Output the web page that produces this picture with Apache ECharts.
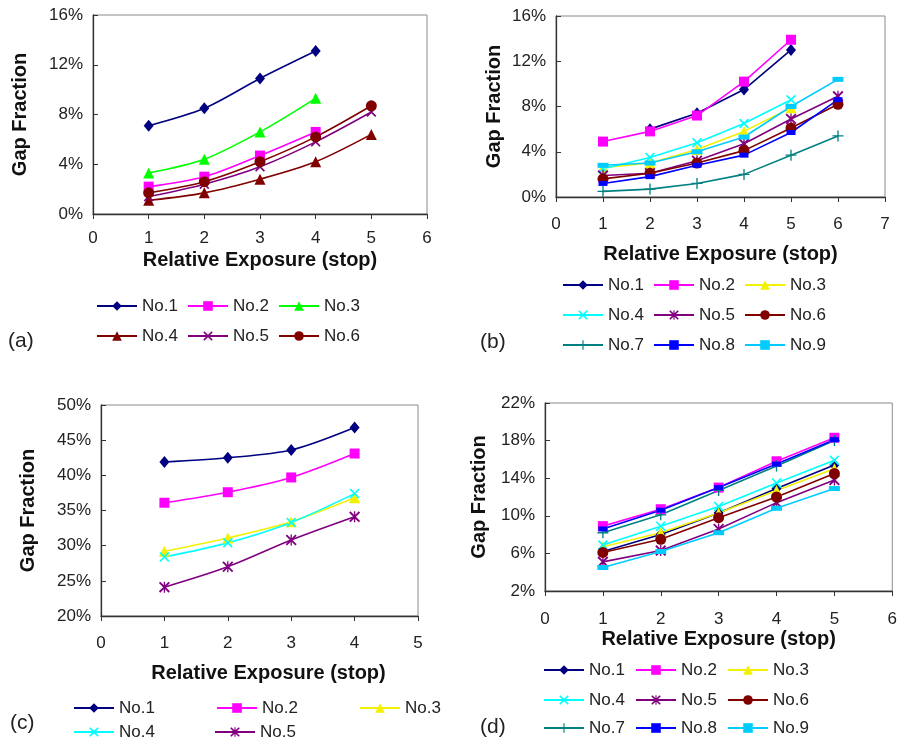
<!DOCTYPE html>
<html>
<head>
<meta charset="utf-8">
<script src="https://cdn.jsdelivr.net/npm/echarts@6/dist/echarts.min.js"></script>
<style>
html,body{margin:0;padding:0;background:#fff;}
#chart{width:900px;height:744px;}
</style>
</head>
<body>
<div id="chart"></div>
<script>
// ---------- DATA ----------
const seriesNames = ['No.1','No.2','No.3','No.4','No.5','No.6','No.7','No.8','No.9'];
const panelLabels = ['(a)','(b)','(c)','(d)'];
const xTitle = 'Relative Exposure (stop)';
const yTitle = 'Gap Fraction';

// Panel (a)
const a_x = [1,2,3,4,5];
const a_No1 = [7.1, 8.5, 10.9, 13.1];
const a_No2 = [2.2, 3.0, 4.7, 6.6];
const a_No3 = [3.3, 4.4, 6.6, 9.3];
const a_No4 = [1.1, 1.7, 2.8, 4.2, 6.4];
const a_No5 = [1.4, 2.4, 3.8, 5.8, 8.2];
const a_No6 = [1.7, 2.6, 4.2, 6.2, 8.7];

// Panel (b)
const b_x = [1,2,3,4,5,6];
const b_No1_x = [2,3,4,5];
const b_No1 = [6.0, 7.4, 9.5, 13.0];
const b_No2 = [4.9, 5.8, 7.2, 10.2, 13.9];
const b_No3 = [2.6, 3.0, 4.2, 5.8, 7.9];
const b_No4 = [2.5, 3.5, 4.8, 6.5, 8.6];
const b_No5 = [1.9, 2.1, 3.2, 4.7, 6.9, 8.9];
const b_No6 = [1.6, 2.1, 3.0, 4.1, 6.1, 8.2];
const b_No7 = [0.5, 0.7, 1.2, 2.0, 3.7, 5.4];
const b_No8 = [1.2, 1.8, 2.8, 3.7, 5.7, 8.6];
const b_No9 = [2.8, 3.0, 4.0, 5.3, 8.0, 10.4];

// Panel (c)
const c_x = [1,2,3,4];
const c_No1 = [41.9, 42.5, 43.6, 46.8];
const c_No2 = [36.1, 37.6, 39.7, 43.1];
const c_No3 = [29.2, 31.1, 33.4, 36.8];
const c_No4 = [28.4, 30.4, 33.3, 37.4];
const c_No5 = [24.1, 27.0, 30.8, 34.1];

// Panel (d)
const d_x = [1,2,3,4,5];
const d_No1 = [6.2, 8.0, 10.3, 12.9, 15.4];
const d_No2 = [8.9, 10.7, 13.0, 15.8, 18.3];
const d_No3 = [6.7, 8.2, 10.3, 12.7, 15.0];
const d_No4 = [6.9, 8.9, 11.0, 13.5, 15.9];
const d_No5 = [5.1, 6.3, 8.6, 11.4, 13.8];
const d_No6 = [6.1, 7.5, 9.8, 12.0, 14.5];
const d_No7 = [8.2, 10.1, 12.7, 15.3, 18.0];
const d_No8 = [8.6, 10.6, 13.0, 15.5, 18.1];
const d_No9 = [4.5, 6.2, 8.2, 10.8, 12.9];

// Axis ranges
const xMax = [6, 7, 5, 6];
const yMin = [0, 0, 20, 2];
const yMax = [16, 16, 50, 22];
const yStep = [4, 4, 5, 4];

// ---------- STYLE ----------
const FONT = 'Liberation Sans, Arial, Helvetica, sans-serif';
const COL = {navy:'#000080', mag:'#FF00FF', green:'#00FF00', yellow:'#F2F200', dred:'#800000',
  purple:'#800080', cyan:'#00FFFF', teal:'#008080', blue:'#0000FF', lblue:'#00CCFF'};
const SYM_X = 'path://M1.2,0 L5,3.8 L8.8,0 L10,1.2 L6.2,5 L10,8.8 L8.8,10 L5,6.2 L1.2,10 L0,8.8 L3.8,5 L0,1.2 Z';
const SYM_AST = 'path://M1.2,0 L5,3.8 L8.8,0 L10,1.2 L6.2,5 L10,8.8 L8.8,10 L5,6.2 L1.2,10 L0,8.8 L3.8,5 L0,1.2 Z M4.4,0 L5.6,0 L5.6,10 L4.4,10 Z';
const SYM_PLUS = 'path://M4.4,0 L5.6,0 L5.6,4.4 L10,4.4 L10,5.6 L5.6,5.6 L5.6,10 L4.4,10 L4.4,5.6 L0,5.6 L0,4.4 L4.4,4.4 Z';

const MK = {
  diamond: ['diamond', [10,12]],
  square: ['rect', 10],
  tri: ['triangle', 11],
  circle: ['circle', 11],
  x: [SYM_X, 10],
  ast: [SYM_AST, 11],
  plus: [SYM_PLUS, 11],
  dash8: ['rect', [9,5]],
  dash9: ['rect', [11,5]]
};

function pts(xs, vals){ return vals.map((v,i)=>[xs[i], v]); }

const series = [];
function add(panel, name, xs, vals, color, mk, smooth){
  series.push({
    type:'line',
    name: panelLabels[panel] + ':' + name,
    xAxisIndex: panel, yAxisIndex: panel,
    data: pts(xs, vals),
    smooth: smooth ? 0.3 : false,
    symbol: MK[mk][0], symbolSize: MK[mk][1],
    showAllSymbol: true,
    lineStyle:{color, width:1.6},
    itemStyle:{color},
    emphasis:{disabled:true},
    animation:false
  });
}

// (a)
add(0,'No.1',a_x,a_No1,COL.navy,'diamond',true);
add(0,'No.2',a_x,a_No2,COL.mag,'square',true);
add(0,'No.3',a_x,a_No3,COL.green,'tri',true);
add(0,'No.4',a_x,a_No4,COL.dred,'tri',true);
add(0,'No.5',a_x,a_No5,COL.purple,'x',true);
add(0,'No.6',a_x,a_No6,COL.dred,'circle',true);
// (b)
add(1,'No.1',b_No1_x,b_No1,COL.navy,'diamond',false);
add(1,'No.2',b_x,b_No2,COL.mag,'square',false);
add(1,'No.3',b_x,b_No3,COL.yellow,'tri',false);
add(1,'No.4',b_x,b_No4,COL.cyan,'x',false);
add(1,'No.5',b_x,b_No5,COL.purple,'ast',false);
add(1,'No.6',b_x,b_No6,COL.dred,'circle',false);
add(1,'No.7',b_x,b_No7,COL.teal,'plus',false);
add(1,'No.8',b_x,b_No8,COL.blue,'dash8',false);
add(1,'No.9',b_x,b_No9,COL.lblue,'dash9',false);
// (c)
add(2,'No.1',c_x,c_No1,COL.navy,'diamond',true);
add(2,'No.2',c_x,c_No2,COL.mag,'square',true);
add(2,'No.3',c_x,c_No3,COL.yellow,'tri',true);
add(2,'No.4',c_x,c_No4,COL.cyan,'x',true);
add(2,'No.5',c_x,c_No5,COL.purple,'ast',true);
// (d)
add(3,'No.1',d_x,d_No1,COL.navy,'diamond',false);
add(3,'No.2',d_x,d_No2,COL.mag,'square',false);
add(3,'No.3',d_x,d_No3,COL.yellow,'tri',false);
add(3,'No.4',d_x,d_No4,COL.cyan,'x',false);
add(3,'No.5',d_x,d_No5,COL.purple,'ast',false);
add(3,'No.6',d_x,d_No6,COL.dred,'circle',false);
add(3,'No.7',d_x,d_No7,COL.teal,'plus',false);
add(3,'No.8',d_x,d_No8,COL.blue,'dash8',false);
add(3,'No.9',d_x,d_No9,COL.lblue,'dash9',false);

// ---------- LAYOUT ----------
const grids = [
  {left:93, top:15, width:334, height:199},
  {left:556, top:16, width:329, height:181},
  {left:101, top:405, width:317, height:211},
  {left:545, top:403, width:348, height:188}
];
const xLabelMargin = [16, 19, 19, 20];
const xNameGap = [36, 47, 47, 38];
const yNameGap = [63, 52, 63, 56];

const xAxes = grids.map((g,i)=>({
  type:'value', gridIndex:i, min:0, max:xMax[i], interval:1,
  axisLine:{show:true, onZero:false, lineStyle:{color:'#333', width:1.3}},
  axisTick:{show:true, inside:false, length:5, lineStyle:{color:'#333'}},
  axisLabel:{fontSize:17, color:'#222', fontFamily:FONT, margin:xLabelMargin[i]},
  splitLine:{show:false},
  name:xTitle, nameLocation:'middle', nameGap:xNameGap[i],
  nameTextStyle:{fontSize:20, fontWeight:'bold', color:'#111', fontFamily:FONT,
    padding: i===2 ? [0,0,0,18] : 0}
}));
const yAxes = grids.map((g,i)=>({
  type:'value', gridIndex:i, min:yMin[i], max:yMax[i], interval:yStep[i],
  axisLine:{show:true, onZero:false, lineStyle:{color:'#333', width:1.3}},
  axisTick:{show:true, inside:true, length:5, lineStyle:{color:'#333'}},
  axisLabel:{fontSize:17, color:'#222', fontFamily:FONT, margin:10, formatter:'{value}%'},
  splitLine:{show:false},
  name:yTitle, nameLocation:'middle', nameGap:yNameGap[i],
  nameTextStyle:{fontSize:20, fontWeight:'bold', color:'#111', fontFamily:FONT}
}));

function leg(panel, items, left, centerY, gap){
  return {
    data: items.map(n => panelLabels[panel] + ':' + n),
    left, top: centerY - 9, orient:'horizontal', itemGap: gap,
    itemWidth: 40, itemHeight: 12, padding: 0, selectedMode:false,
    formatter: n => n.split(':')[1],
    textStyle:{fontSize:17, color:'#222', fontFamily:FONT, width:40, lineHeight:18}
  };
}
const legends = [
  leg(0, seriesNames.slice(0,3), 96, 306, 5),
  leg(0, seriesNames.slice(3,6), 96, 336, 5),
  leg(1, seriesNames.slice(0,3), 562, 285, 5),
  leg(1, seriesNames.slice(3,6), 562, 315, 5),
  leg(1, seriesNames.slice(6,9), 562, 345, 5),
  leg(2, seriesNames.slice(0,3), 73, 708, 57),
  leg(2, seriesNames.slice(3,5), 73, 732, 55),
  leg(3, seriesNames.slice(0,3), 543, 670, 6),
  leg(3, seriesNames.slice(3,6), 543, 700, 6),
  leg(3, seriesNames.slice(6,9), 543, 728, 6)
];

const titlePos = [[8,331],[480,332],[10,713],[480,717]];
const titles = panelLabels.map((t,i)=>({
  text:t, left:titlePos[i][0], top:titlePos[i][1], padding:0,
  textStyle:{fontSize:21, fontWeight:'normal', color:'#222', fontFamily:FONT}
}));

const chart = echarts.init(document.getElementById('chart'), null, {renderer:'canvas'});
chart.setOption({
  backgroundColor:'#fff',
  animation:false,
  title: titles,
  legend: legends,
  grid: grids.map(g=>Object.assign({show:true, borderColor:'#8a8a8a', borderWidth:1, backgroundColor:'#fff'}, g)),
  xAxis: xAxes,
  yAxis: yAxes,
  series: series
});
</script>
</body>
</html>
